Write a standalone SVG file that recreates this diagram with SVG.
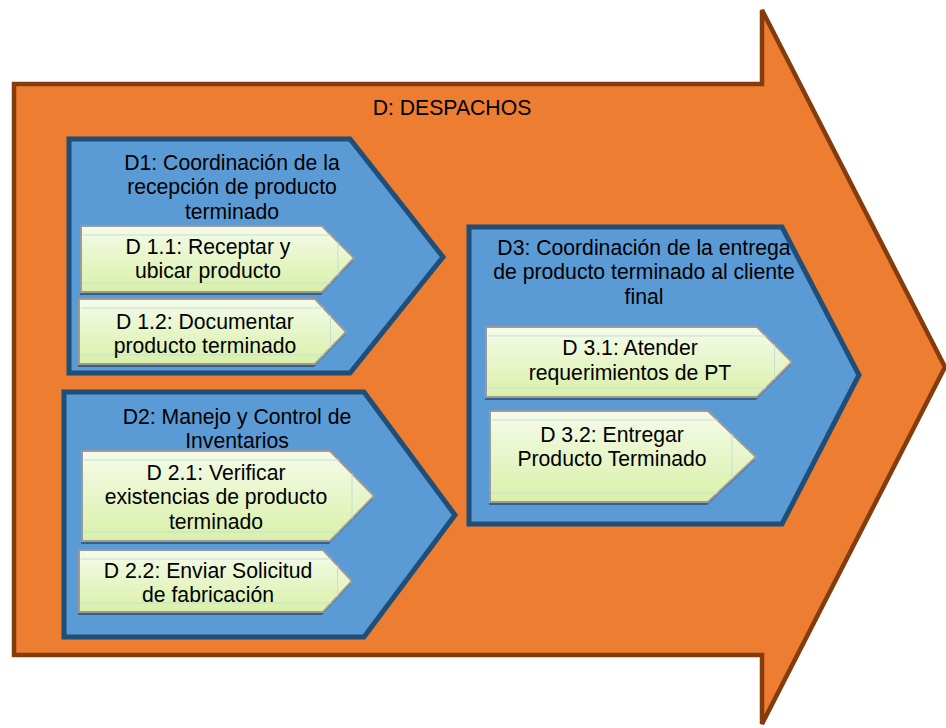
<svg xmlns="http://www.w3.org/2000/svg" width="946" height="728" viewBox="0 0 946 728">
  <defs>
    <linearGradient id="greenFill" x1="0" y1="0" x2="0" y2="1">
      <stop offset="0" stop-color="#F5FBEA"/>
      <stop offset="1" stop-color="#D9F0A8"/>
    </linearGradient>
    <style>
      .stage { fill: #ED7D31; stroke: #843C0C; stroke-width: 4.5; stroke-linejoin: miter; }
      .group { fill: #5B9BD5; stroke: #1F4E79; stroke-width: 5; stroke-linejoin: miter; }
      .step { fill: url(#greenFill); stroke: #9A9A9A; stroke-width: 2; }
      .shadow { fill: #2C4B6B; opacity: 0.75; }
      .bevel { fill: none; stroke: #C4DFD6; stroke-width: 1; }
      text { font-family: "Liberation Sans", Arial, sans-serif; font-size: 21.2px; fill: #000; text-anchor: middle; }
    </style>
  </defs>

  <!-- Main stage arrow -->
  <g id="stage-D">
    <polygon class="stage" points="14,84 762,84 762,10 945,367 762,724 762,655 14,655"/>
    <text x="452" y="115">D: DESPACHOS</text>
  </g>

  <!-- D1 group -->
  <g id="group-D1">
    <polygon class="group" points="69,139 350,139 443,257 350,373 69,373"/>
    <text x="232" y="169.5">D1: Coordinación de la</text>
    <text x="232" y="194">recepción de producto</text>
    <text x="232" y="218.5">terminado</text>
  </g>

  <g id="step-D1-1">
    <polygon class="shadow" points="80,229 321,229 353,261 321,295 80,295"/>
    <polygon class="step" points="81,226 322,226 354,258 322,292 81,292"/>
    <path class="bevel" d="M83 235H330.7M83 283H330.7M338 242.5V275.5"/>
    <text x="208" y="253.5">D 1.1: Receptar y</text>
    <text x="208" y="278">ubicar producto</text>
  </g>

  <g id="step-D1-2">
    <polygon class="shadow" points="78,302 314,302 345,335 314,367 78,367"/>
    <polygon class="step" points="79,299 315,299 346,332 315,364 79,364"/>
    <path class="bevel" d="M81 308H323.6M81 355H323.6M330.5 315.5V347.5"/>
    <text x="205" y="328.5">D 1.2: Documentar</text>
    <text x="205" y="352.5">producto terminado</text>
  </g>

  <!-- D2 group -->
  <g id="group-D2">
    <polygon class="group" points="64,392 364,392 455,515 364,637 64,637"/>
    <text x="237" y="423.5">D2: Manejo y Control de</text>
    <text x="237" y="447.5">Inventarios</text>
  </g>

  <g id="step-D2-1">
    <polygon class="shadow" points="81,454 329,454 373,499 329,544 81,544"/>
    <polygon class="step" points="82,451 330,451 374,496 330,541 82,541"/>
    <path class="bevel" d="M84 460H338.8M84 532H338.8M352 473.5V518.5"/>
    <text x="216" y="479.5">D 2.1: Verificar</text>
    <text x="216" y="504">existencias de producto</text>
    <text x="216" y="528.5">terminado</text>
  </g>

  <g id="step-D2-2">
    <polygon class="shadow" points="78,553 322,553 351,584 322,615 78,615"/>
    <polygon class="step" points="79,550 323,550 352,581 323,612 79,612"/>
    <path class="bevel" d="M81 559H331.4M81 603H331.4M337.5 565.5V596.5"/>
    <text x="208" y="577.5">D 2.2: Enviar Solicitud</text>
    <text x="208" y="602">de fabricación</text>
  </g>

  <!-- D3 group -->
  <g id="group-D3">
    <polygon class="group" points="469,227 782,227 859,375 782,524 469,524"/>
    <text x="644" y="254.5">D3: Coordinación de la entrega</text>
    <text x="644" y="279">de producto terminado al cliente</text>
    <text x="644" y="303.5">final</text>
  </g>

  <g id="step-D3-1">
    <polygon class="shadow" points="485,330 756,330 791,365 756,400 485,400"/>
    <polygon class="step" points="486,327 757,327 792,362 757,397 486,397"/>
    <path class="bevel" d="M488 336H766M488 388H766M774.5 344.5V379.5"/>
    <text x="630" y="354.5">D 3.1: Atender</text>
    <text x="630" y="379.5">requerimientos de PT</text>
  </g>

  <g id="step-D3-2">
    <polygon class="shadow" points="489,414 707,414 755,460 707,505 489,505"/>
    <polygon class="step" points="490,411 708,411 756,457 708,502 490,502"/>
    <path class="bevel" d="M492 420H717.5M492 493H717.5M732 434V479"/>
    <text x="612" y="441.5">D 3.2: Entregar</text>
    <text x="612" y="465.5">Producto Terminado</text>
  </g>

  <!-- No connectors in this layout -->
  <g id="connectors"/>
</svg>
